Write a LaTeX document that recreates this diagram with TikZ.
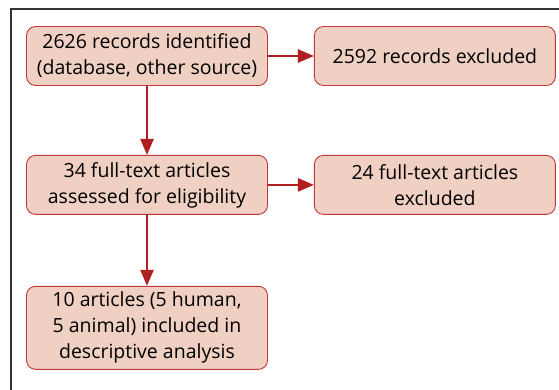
\documentclass[tikz,border=0pt]{standalone}
\usepackage{fontspec}
\setmainfont{Open Sans}
\usepackage{xcolor}
\usetikzlibrary{arrows.meta,positioning}
\definecolor{boxfill}{RGB}{240,208,194}
\definecolor{boxline}{RGB}{192,55,55}
\definecolor{arrowcolor}{RGB}{176,32,32}

\begin{document}
\begin{tikzpicture}[
    x=1pt, y=1pt,
    node distance=69pt and 46pt,
    stage/.style={rectangle, rounded corners=9pt, draw=boxline, line width=0.9pt, fill=boxfill, minimum width=241pt, minimum height=59pt, align=center, font=\fontsize{19.5}{26}\selectfont},
    arrow/.style={-{Triangle[length=16pt,width=13pt]}, line width=2.4pt, draw=arrowcolor}
]
\useasboundingbox (0,0) rectangle (559,-390);
\draw[line width=1.2pt, draw=black!80] (11,-390) -- (11,-9) -- (559,-9);

\node[stage] (s1) at (147,-56) {2626 records identified\\(database, other source)};
\node[stage, right=of s1] (s2) {2592 records excluded};
\node[stage, below=of s1] (s3) {34 full-text articles\\assessed for eligibility};
\node[stage, right=of s3] (s4) {24 full-text articles\\excluded};
\node[stage, below=71pt of s3, minimum height=83pt] (s5) {10 articles (5 human,\\5 animal) included in\\descriptive analysis};

\draw[arrow] (s1) -- (s2);
\draw[arrow] (s1) -- (s3);
\draw[arrow] (s3) -- (s4);
\draw[arrow] (s3) -- (s5);
\end{tikzpicture}
\end{document}
